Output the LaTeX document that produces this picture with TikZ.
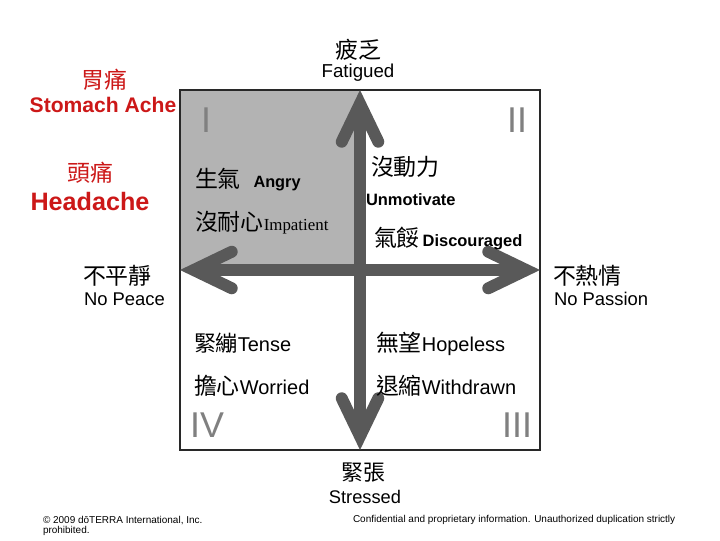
\documentclass[tikz,border=0pt]{standalone}
\usepackage{fontspec}
\setmainfont{Liberation Sans}
\newfontfamily\cjk{Noto Sans CJK TC}
\newfontfamily\timesfont{Liberation Serif}
\usepackage{tikz}
\usetikzlibrary{arrows.meta}
\definecolor{axisgray}{RGB}{89,89,89}
\definecolor{quadgray}{RGB}{179,179,179}
\definecolor{numgray}{RGB}{128,128,128}
\definecolor{achered}{RGB}{204,24,24}
\definecolor{framegray}{RGB}{40,40,40}
\newcommand{\txtsize}[1]{\fontsize{#1pt}{#1pt}\selectfont}

\begin{document}
\begin{tikzpicture}[x=0.025cm, y=-0.025cm,
	every node/.style={inner sep=0pt, outer sep=0pt},
	lbl/.style={anchor=base west},
	mid/.style={anchor=base},
	numeral/.style={anchor=base, text=numgray, font=\txtsize{25.5}},
	ache/.style={anchor=base, text=achered},
	axis/.style={draw=axisgray, line width=8.5pt,
		{Straight Barb[length=27pt,width=26pt,line cap=round,line join=miter]}-{Straight Barb[length=27pt,width=26pt,line cap=round,line join=miter]}}]
	\useasboundingbox (0,0) rectangle (720,540);

	% Quadrant I shading and outer frame
	\fill[quadgray] (180,90) rectangle (360,270);
	\draw[framegray, line width=2.1pt] (180,90) rectangle (540,450);

	% Ends of the two axes
	\coordinate (top) at (360,90);
	\coordinate (bottom) at (360,450);
	\coordinate (left) at (180,270);
	\coordinate (right) at (540,270);
	\draw[axis] (bottom) -- (top);
	\draw[axis] (right) -- (left);

	% Axis labels
	\node[mid, font=\cjk\txtsize{16.3}] (tired) at (358,58) {疲乏};
	\node[mid, font=\txtsize{13.3}] (tiredEn) at (358,77) {Fatigued};
	\node[mid, font=\cjk\txtsize{15.6}] (stress) at (363,480) {緊張};
	\node[mid, font=\txtsize{13}] (stressEn) at (365,503) {Stressed};
	\node[lbl, font=\cjk\txtsize{16.3}] (unrest) at (83,284) {不平靜};
	\node[lbl, font=\txtsize{13.1}] (unrestEn) at (84,305) {No Peace};
	\node[lbl, font=\cjk\txtsize{16.3}] (apathy) at (553,284) {不熱情};
	\node[lbl, font=\txtsize{13.1}] (apathyEn) at (554,305) {No Passion};

	% Symptoms, in red
	\node[ache, font=\cjk\txtsize{16.3}] (stomach) at (104,88) {胃痛};
	\node[ache, font=\bfseries\txtsize{15}] (stomachEn) at (103,112) {Stomach Ache};
	\node[ache, font=\cjk\txtsize{16.3}] (head) at (90,181) {頭痛};
	\node[ache, font=\bfseries\txtsize{17.9}] (headEn) at (90,210) {Headache};

	% Quadrant numbers
	\node[numeral] (qI) at (206,132) {I};
	\node[numeral] (qII) at (517,132) {II};
	\node[numeral] (qIII) at (517,437) {III};
	\node[numeral] (qIV) at (207,437) {IV};

	% Words in each quadrant
	\node[lbl] (angry) at (195,187) {{\cjk\txtsize{16.3}生氣}\hspace{9pt}{\bfseries\txtsize{11.6}Angry}};
	\node[lbl] (impatient) at (195,230) {{\cjk\txtsize{16.3}沒耐心}{\timesfont\txtsize{12}Impatient}};
	\node[lbl, font=\cjk\txtsize{16.3}] (unmot) at (371,175) {沒動力};
	\node[lbl, font=\bfseries\txtsize{11.7}] (unmotEn) at (366,205) {Unmotivate};
	\node[lbl] (discour) at (374,246) {{\cjk\txtsize{16.3}氣餒}\hspace{2pt}{\bfseries\txtsize{11.7}Discouraged}};
	\node[lbl] (tense) at (194,351) {{\cjk\txtsize{15.6}緊繃}{\txtsize{14.2}Tense}};
	\node[lbl] (worried) at (194,394) {{\cjk\txtsize{16.3}擔心}{\txtsize{14.2}Worried}};
	\node[lbl] (hopeless) at (376,351) {{\cjk\txtsize{16.3}無望}{\txtsize{14.2}Hopeless}};
	\node[lbl] (withdrawn) at (376,394) {{\cjk\txtsize{16.3}退縮}{\txtsize{14.2}Withdrawn}};

	% Footer
	\node[lbl, font=\txtsize{7.1}] (copy) at (43,523) {© 2009 dōTERRA International, Inc.};
	\node[lbl, font=\txtsize{7.1}] (copy2) at (43,533) {prohibited.};
	\node[lbl, font=\txtsize{7.1}] (confid) at (353,522) {Confidential and proprietary information. Unauthorized duplication strictly};
\end{tikzpicture}
\end{document}
